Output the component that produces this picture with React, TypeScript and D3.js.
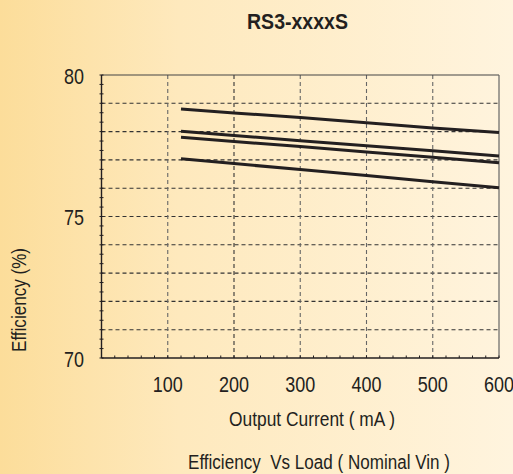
import React from "react";
import * as d3 from "d3";

const currents = [120, 200, 300, 400, 500, 600];
const seriesA = [78.8, 78.66, 78.5, 78.31, 78.13, 77.97];
const seriesB = [78.01, 77.86, 77.68, 77.5, 77.32, 77.14];
const seriesC = [77.8, 77.65, 77.47, 77.28, 77.09, 76.9];
const seriesD = [77.04, 76.87, 76.66, 76.45, 76.23, 76.02];
const allSeries = [seriesA, seriesB, seriesC, seriesD];
const xTicks = [100, 200, 300, 400, 500, 600];
const yTicks = [70, 75, 80];
const yGrid = [71, 72, 73, 74, 75, 76, 77, 78, 79];

const W = 513;
const H = 474;
const FONT = "'Liberation Sans', Arial, sans-serif";
const INK = "#231f20";

export default function App() {
  const x = d3.scaleLinear().domain([0, 600]).range([101.5, 499]);
  const y = d3.scaleLinear().domain([70, 80]).range([358, 75]);
  const line = d3
    .line<number>()
    .x((_, i) => x(currents[i]))
    .y((v) => y(v));

  const xMinor = d3.range(0, 601, 20);
  const yMinor = d3.range(0, 31).map((i) => 70 + i / 3);

  return (
    <svg
      width={W}
      height={H}
      style={{ position: "absolute", left: 0, top: 0, display: "block" }}
    >
      <defs>
        <linearGradient id="bg" x1="0" y1="0" x2="1" y2="0">
          <stop offset="0" stopColor="#fcdd9a" />
          <stop offset="0.35" stopColor="#fee9bd" />
          <stop offset="1" stopColor="#fff4de" />
        </linearGradient>
      </defs>
      <rect x={0} y={0} width={W} height={H} fill="url(#bg)" />

      <text
        x={297.5}
        y={29}
        textAnchor="middle"
        fontFamily={FONT}
        fontWeight="bold"
        fontSize={22}
        textLength={101}
        lengthAdjust="spacingAndGlyphs"
        fill={INK}
      >
        RS3-xxxxS
      </text>

      {/* horizontal grid */}
      {yGrid.map((v) => (
        <line
          key={"hg" + v}
          x1={x(0)}
          x2={x(600)}
          y1={y(v)}
          y2={y(v)}
          stroke="#333"
          strokeWidth={1.1}
          strokeDasharray="4,3"
        />
      ))}
      {/* vertical grid */}
      {xTicks.slice(0, 5).map((v) => (
        <line
          key={"vg" + v}
          x1={x(v)}
          x2={x(v)}
          y1={y(80)}
          y2={y(70)}
          stroke={v === 200 ? "#333" : "#666"}
          strokeWidth={1.1}
          strokeDasharray="4,3"
        />
      ))}

      {/* frame */}
      <line x1={x(0)} x2={x(600)} y1={y(80)} y2={y(80)} stroke="#444" strokeWidth={1.2} />
      <line x1={x(600)} x2={x(600)} y1={y(80)} y2={y(70)} stroke="#666" strokeWidth={1.2} />
      <line x1={x(0)} x2={x(0)} y1={y(80)} y2={y(70)} stroke={INK} strokeWidth={1.4} />
      <line x1={x(0)} x2={x(600)} y1={y(70)} y2={y(70)} stroke={INK} strokeWidth={1.4} />

      {/* minor ticks */}
      {yMinor.map((v, i) => (
        <line
          key={"ym" + i}
          x1={x(0) - 2}
          x2={x(0) + 2}
          y1={y(v)}
          y2={y(v)}
          stroke={INK}
          strokeWidth={1}
        />
      ))}
      {xMinor.map((v) => (
        <line
          key={"xm" + v}
          x1={x(v)}
          x2={x(v)}
          y1={y(70)}
          y2={y(70) - 2.5}
          stroke={INK}
          strokeWidth={1}
        />
      ))}

      {/* series */}
      {allSeries.map((s, i) => (
        <path
          key={"s" + i}
          d={line(s) || ""}
          fill="none"
          stroke={INK}
          strokeWidth={3}
        />
      ))}

      {/* tick labels */}
      {yTicks.map((v) => (
        <text
          key={"yl" + v}
          x={84}
          y={y(v) + 8.5}
          textAnchor="end"
          fontFamily={FONT}
          fontSize={22}
          textLength={20}
          lengthAdjust="spacingAndGlyphs"
          fill={INK}
        >
          {v}
        </text>
      ))}
      {xTicks.map((v) => (
        <text
          key={"xl" + v}
          x={x(v)}
          y={392}
          textAnchor="middle"
          fontFamily={FONT}
          fontSize={22}
          textLength={30}
          lengthAdjust="spacingAndGlyphs"
          fill={INK}
        >
          {v}
        </text>
      ))}

      <text
        x={312}
        y={426}
        textAnchor="middle"
        fontFamily={FONT}
        fontSize={20}
        textLength={166}
        lengthAdjust="spacingAndGlyphs"
        fill={INK}
      >
        Output Current ( mA )
      </text>
      <text
        x={319}
        y={469}
        textAnchor="middle"
        fontFamily={FONT}
        fontSize={20}
        textLength={262}
        lengthAdjust="spacingAndGlyphs"
        fill={INK}
        style={{ whiteSpace: "pre" }}
      >
        Efficiency  Vs Load ( Nominal Vin )
      </text>
      <text
        transform="translate(26,300) rotate(-90)"
        textAnchor="middle"
        fontFamily={FONT}
        fontSize={20}
        textLength={104}
        lengthAdjust="spacingAndGlyphs"
        fill={INK}
      >
        Efficiency (%)
      </text>
    </svg>
  );
}
